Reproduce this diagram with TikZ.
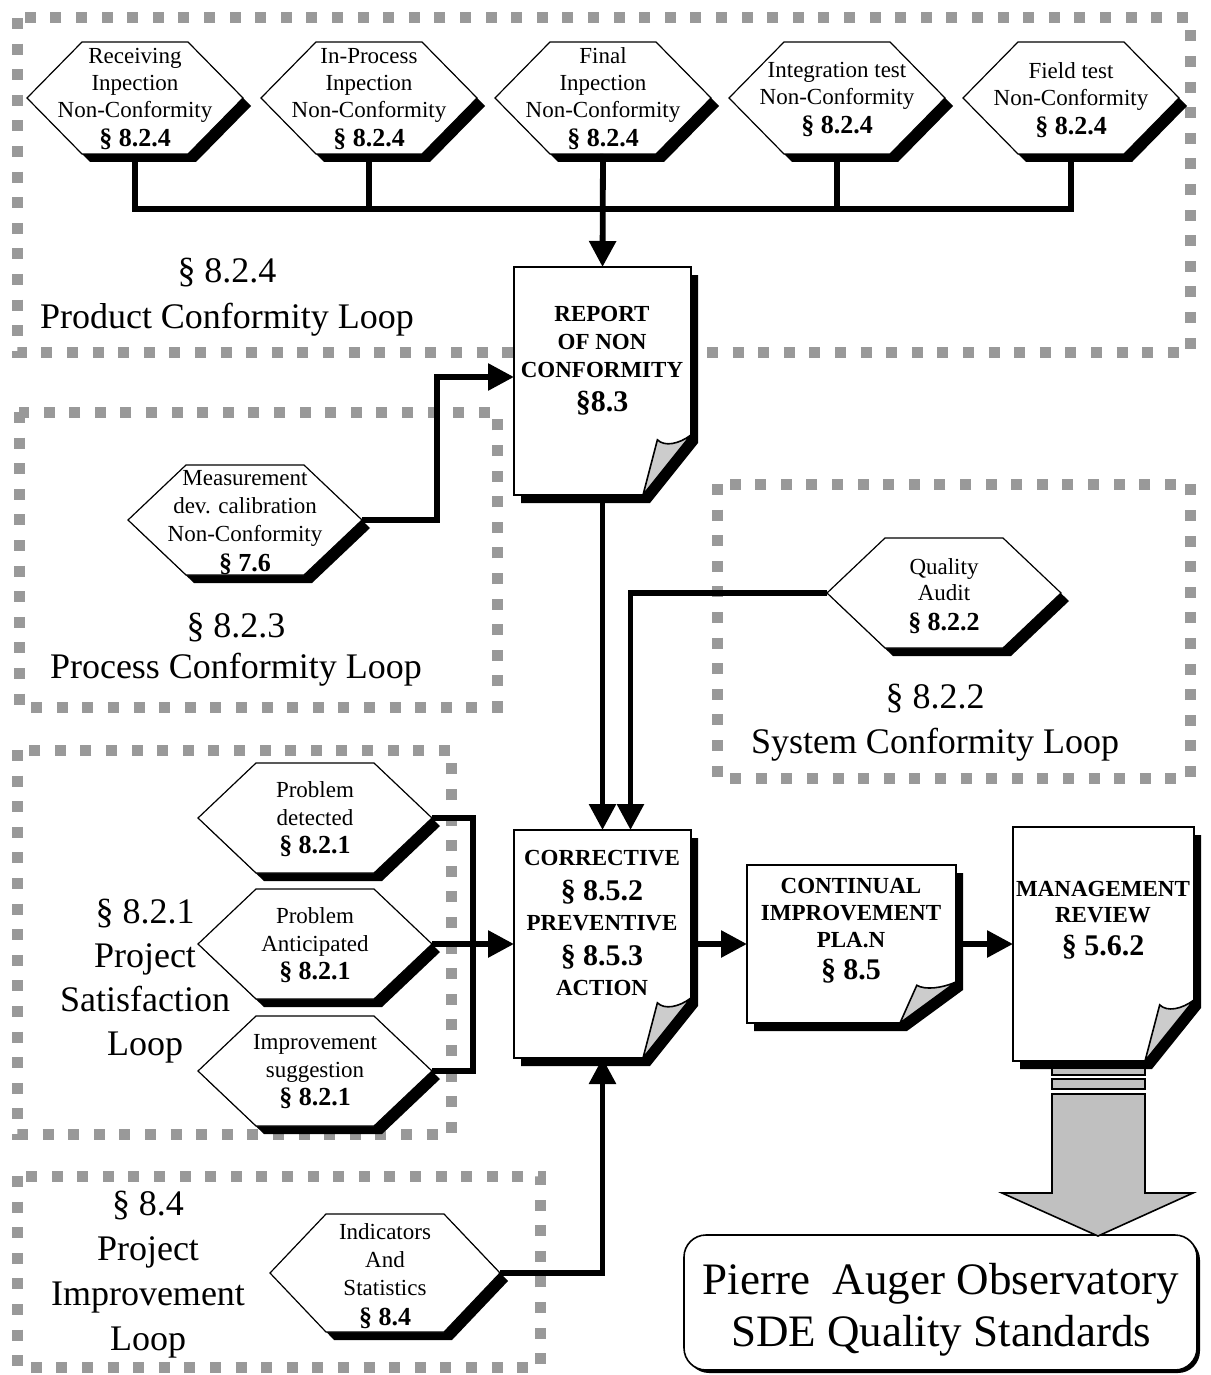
\documentclass[tikz,border=0pt]{standalone}
\usepackage{fontspec}
\setmainfont{Liberation Serif}
\usetikzlibrary{arrows.meta,calc}
\definecolor{dashgray}{HTML}{999999}
\definecolor{curlgray}{HTML}{CCCCCC}
\definecolor{biggray}{HTML}{C0C0C0}
\newcommand{\secb}{\bfseries\fontsize{13}{13}\selectfont}
\newcommand{\secd}{\fontsize{15}{15}\selectfont}
\tikzset{
 loopbox/.style={draw=dashgray, line width=5.5pt, dash pattern=on 5.5pt off 7.3pt},
 hexline/.style={draw=black, line width=0.6pt, fill=white},
 docline/.style={draw=black, line width=0.8pt, fill=white},
 hextext/.style={align=center, inner sep=0pt, font=\fontsize{11.5}{13.5}\selectfont},
 doctext/.style={align=center, inner sep=0pt, font=\bfseries\fontsize{11.5}{14}\selectfont},
 looptext/.style={align=center, inner sep=0pt, font=\fontsize{18}{23}\selectfont},
 wire/.style={line width=2.9pt},
 arr/.style={wire, -{Triangle[length=13pt,width=13pt]}},
 bigshape/.style={draw=black, line width=0.8pt, fill=biggray},
}
% hexagon: name, cx, cy, half width, half height, top half width
\newcommand{\hexshape}[6]{%
 \fill[black] ({#2-#4+8},{#3+8}) -- ({#2-#6+8},{#3-#5+8}) -- ({#2+#6+8},{#3-#5+8}) -- ({#2+#4+8},{#3+8}) -- ({#2+#6+8},{#3+#5+8}) -- ({#2-#6+8},{#3+#5+8}) -- cycle;
 \path[hexline] ({#2-#4},#3) -- ({#2-#6},{#3-#5}) -- ({#2+#6},{#3-#5}) -- ({#2+#4},#3) -- ({#2+#6},{#3+#5}) -- ({#2-#6},{#3+#5}) -- cycle;
 \coordinate (#1-l) at ({#2-#4},#3);
 \coordinate (#1-r) at ({#2+#4},#3);
 \coordinate (#1-b) at (#2,{#3+#5});
}
% document: name, x1, y1, x2, y2, cut width, cut height
\newcommand{\docshape}[7]{%
 \fill[black] ({#2+7},{#3+8}) -- ({#4+7},{#3+8}) -- ({#4+7},{#5-#7+8}) -- ({#4-#6+7},{#5+8}) -- ({#2+7},{#5+8}) -- cycle;
 \path[docline] (#2,#3) -- (#4,#3) -- (#4,{#5-#7}) -- ({#4-#6},#5) -- (#2,#5) -- cycle;
 \draw[line width=0.8pt, fill=curlgray] ({#4-#6},#5) -- ({#4-0.7*#6},{#5-0.92*#7}) .. controls ({#4-0.55*#6},{#5-0.8*#7}) and ({#4-0.25*#6},{#5-0.85*#7}) .. (#4,{#5-#7}) -- cycle;
 \coordinate (#1-t) at ({(#2+#4)/2},#3);
 \coordinate (#1-b) at ({(#2+#4)/2},#5);
 \coordinate (#1-l) at (#2,{(#3+#5)/2});
 \coordinate (#1-r) at (#4,{(#3+#5)/2});
}
\begin{document}
\begin{tikzpicture}[x=0.5pt,y=-0.5pt]
\useasboundingbox (0,0) rectangle (1210,1375);
\fill[white] (0,0) rectangle (1210,1375);
% loop boxes
\draw[loopbox] (17,18) rectangle (1190,352);
\draw[loopbox] (19,412) rectangle (497,707);
\draw[loopbox] (717,484) rectangle (1190,778);
\draw[loopbox] (17,750) rectangle (451,1134);
\draw[loopbox] (17,1176) rectangle (540,1367);
% loop labels
\node[looptext] (lp1) at (227,297) {§ 8.2.4\\Product Conformity Loop};
\node[looptext, font=\fontsize{18}{20.5}\selectfont] (lp2) at (236,650) {§ 8.2.3\\Process Conformity Loop};
\node[looptext, font=\fontsize{18}{22.5}\selectfont] (lp3) at (935,723) {§ 8.2.2\\System Conformity Loop};
\node[looptext, font=\fontsize{18}{22}\selectfont] (lp4) at (145,981) {§ 8.2.1\\Project\\Satisfaction\\Loop};
\node[looptext, font=\fontsize{18}{22.5}\selectfont] (lp5) at (148,1275) {§ 8.4\\Project\\Improvement\\Loop};
% top hexagons
\hexshape{h1}{135}{98}{108}{56}{53}
\node[hextext] (h1) at (135,99) {Receiving\\Inpection\\Non-Conformity\\[1pt]{\secb § 8.2.4}};
\hexshape{h2}{369}{98}{108}{56}{53}
\node[hextext] (h2) at (369,99) {In-Process\\Inpection\\Non-Conformity\\[1pt]{\secb § 8.2.4}};
\hexshape{h3}{603}{98}{108}{56}{53}
\node[hextext] (h3) at (603,99) {Final\\Inpection\\Non-Conformity\\[1pt]{\secb § 8.2.4}};
\hexshape{h4}{837}{98}{108}{56}{53}
\node[hextext] (h4) at (837,100) {Integration test\\Non-Conformity\\[1pt]{\secb § 8.2.4}};
\hexshape{h5}{1071}{98}{108}{56}{53}
\node[hextext] (h5) at (1071,100) {Field test\\Non-Conformity\\[1pt]{\secb § 8.2.4}};
% other hexagons
\hexshape{meas}{245}{520}{117}{55}{59}
\node[hextext, font=\fontsize{11.5}{14}\selectfont] (meas) at (245,523) {Measurement\\dev. calibration\\Non-Conformity\\[1pt]{\secb § 7.6}};
\hexshape{qa}{944}{593}{117}{55}{59}
\node[hextext, font=\fontsize{11.5}{13}\selectfont] (qa) at (944,596) {Quality\\Audit\\[2pt]{\secb § 8.2.2}};
\hexshape{pd}{315}{818}{117}{55}{59}
\node[hextext, font=\fontsize{11.5}{14}\selectfont] (pd) at (315,819) {Problem\\detected\\{\secb § 8.2.1}};
\hexshape{pa}{315}{944}{117}{55}{59}
\node[hextext, font=\fontsize{11.5}{14}\selectfont] (pa) at (315,945) {Problem\\Anticipated\\{\secb § 8.2.1}};
\hexshape{is}{315}{1071}{117}{55}{59}
\node[hextext, font=\fontsize{11.5}{14}\selectfont] (is) at (315,1072) {Improvement\\suggestion\\{\secb § 8.2.1}};
\hexshape{ind}{385}{1273}{115}{59}{59}
\node[hextext, font=\fontsize{11.5}{14}\selectfont] (ind) at (385,1276) {Indicators\\And\\Statistics\\[1pt]{\secb § 8.4}};
% documents
\docshape{report}{514}{267}{691}{495}{48}{60}
\node[doctext] (report) at (602,361) {REPORT\\OF NON\\CONFORMITY\\[3pt]{\secd §8.3}};
\docshape{corr}{514}{830}{691}{1058}{48}{60}
\node[doctext, font=\bfseries\fontsize{11.5}{15}\selectfont] (corr) at (602,923) {CORRECTIVE\\[2.5pt]{\secd § 8.5.2}\\PREVENTIVE\\[2.5pt]{\secd § 8.5.3}\\ACTION};
\docshape{cont}{747}{865}{956}{1023}{56}{41}
\node[doctext, font=\bfseries\fontsize{11.5}{13.5}\selectfont] (cont) at (851,931) {CONTINUAL\\IMPROVEMENT\\PLA.N\\[2.5pt]{\secd § 8.5}};
\docshape{mgmt}{1013}{827}{1194}{1061}{49}{61}
\node[doctext, font=\bfseries\fontsize{11.5}{13}\selectfont] (mgmt) at (1103,920) {MANAGEMENT\\REVIEW\\[3.5pt]{\secd § 5.6.2}};
% big arrow to the title box
\fill[black, rounded corners=11pt] (687,1238) rectangle (1200,1373);
\draw[line width=0.8pt, fill=white, rounded corners=11pt] (684,1235) rectangle (1197,1370);
\node[align=center, inner sep=0pt, font=\fontsize{22.5}{26}\selectfont] (pao) at (941,1310) {Pierre\ \ Auger Observatory\\SDE Quality Standards};
\draw[bigshape] (1052,1068) rectangle (1145,1075);
\draw[bigshape] (1052,1079) rectangle (1145,1089);
\draw[bigshape] (1052,1094) -- (1145,1094) -- (1145,1193) -- (1193,1193) -- (1098,1236) -- (1002,1193) -- (1052,1193) -- cycle;
% connectors
\coordinate (bus) at (603,209);
\draw[wire] (h1-b) |- (bus) -| (h5-b);
\draw[wire] (h2-b) -- (h2-b |- bus);
\draw[wire] (h4-b) -- (h4-b |- bus);
\draw[arr] (h3-b) -- (report-t);
\draw[arr] (meas-r) -- ++(75,0) |- ([yshift=2pt]report-l);
\draw[arr] (report-b) -- (corr-t);
\draw[arr] (qa-l) -| ([xshift=14pt]corr-t);
\draw[wire] (pd-r) -- ++(41,0) |- (is-r);
\draw[arr] (pa-r) -- (corr-l);
\draw[arr] (ind-r) -| (corr-b);
\draw[arr] (corr-r) -- (cont-l);
\draw[arr] (cont-r) -- (mgmt-l);
\end{tikzpicture}
\end{document}
